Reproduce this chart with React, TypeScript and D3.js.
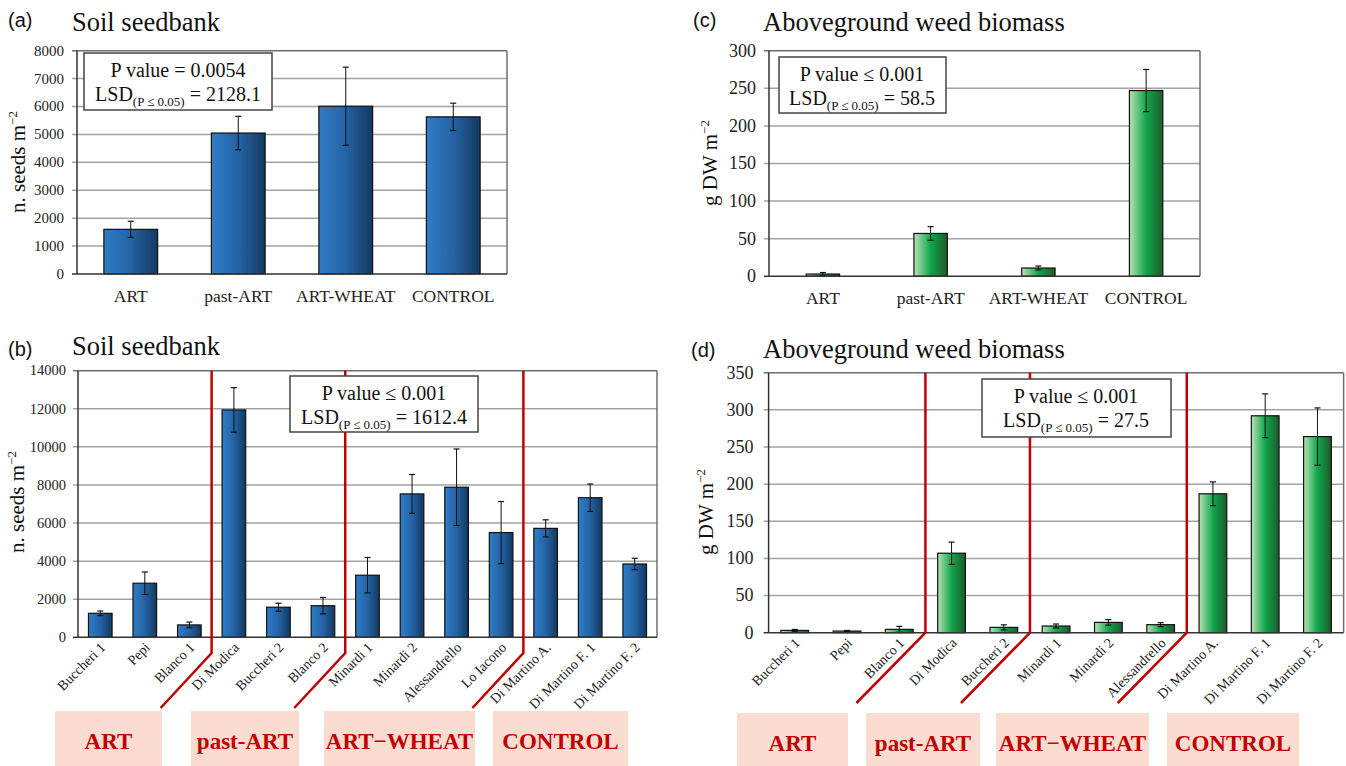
import * as d3 from 'd3'

// ---- data ----
const mainCats = ['ART', 'past-ART', 'ART-WHEAT', 'CONTROL']
const seedMain = [1600, 5050, 6010, 5630]
const seedMainErr = [290, 600, 1400, 490]
const bioMain = [3, 57, 11, 247]
const bioMainErr = [2, 9, 2.7, 28]

const seedFarms = ['Buccheri 1', 'Pepi', 'Blanco 1', 'Di Modica', 'Buccheri 2', 'Blanco 2', 'Minardi 1', 'Minardi 2', 'Alessandrello', 'Lo Iacono', 'Di Martino A.', 'Di Martino F. 1', 'Di Martino F. 2']
const seedFarmVals = [1260, 2840, 650, 11940, 1580, 1660, 3260, 7530, 7880, 5500, 5720, 7330, 3850]
const seedFarmErr = [120, 590, 150, 1170, 210, 430, 930, 1020, 2010, 1630, 450, 720, 300]
const seedGroupSizes = [3, 3, 4, 3]

const bioFarms = ['Buccheri 1', 'Pepi', 'Blanco 1', 'Di Modica', 'Buccheri 2', 'Minardi 1', 'Minardi 2', 'Alessandrello', 'Di Martino A.', 'Di Martino F. 1', 'Di Martino F. 2']
const bioFarmVals = [3.1, 2.2, 4.5, 107, 7.2, 9, 13.9, 10.8, 187, 292, 264]
const bioFarmErr = [1.3, 0.8, 4, 15, 3.4, 2.7, 3.8, 2.7, 16, 29.5, 38.6]
const bioGroupSizes = [3, 2, 3, 3]

const groupNames = ['ART', 'past-ART', 'ART\u2212WHEAT', 'CONTROL']

const serif = '"Liberation Serif", "Times New Roman", serif'
const sans = '"Liberation Sans", Arial, sans-serif'

function Panel(props: any) {
  const { cats, vals, errs, max, nTicks, x0, x1, yTop, yBot, barFrac, grad, rotate,
    tickSize, tickOff, catSize, groups, knee, dx, yEnd } = props
  const x = d3.scaleBand<string>().domain(cats).range([x0, x1]).padding(0)
  const y = d3.scaleLinear().domain([0, max]).range([yBot, yTop])
  const bw = x.bandwidth() * barFrac
  const ticks = y.ticks(nTicks)

  // red separators between groups
  const seps: number[] = []
  if (groups) {
    let acc = 0
    groups.slice(0, -1).forEach((g: number) => { acc += g; seps.push(x0 + acc * x.step()) })
  }

  return (
    <g>
      {ticks.map(t => (
        <g key={t}>
          {t > 0 && <line x1={x0 - 5} x2={x1} y1={y(t)} y2={y(t)} stroke={t === max ? '#6e6e6e' : '#a3a3a3'} strokeWidth={1.5} />}
          {t === 0 && <line x1={x0 - 5} x2={x0} y1={y(t)} y2={y(t)} stroke="#333" strokeWidth={1.5} />}
          <text x={x0 - tickOff} y={y(t) + tickSize * 0.33} textAnchor="end" fontFamily={serif} fontSize={tickSize} fill="#222">{t}</text>
        </g>
      ))}
      <line x1={x1} x2={x1} y1={yTop} y2={yBot} stroke="#6e6e6e" strokeWidth={1.5} />
      {cats.map((c: string, i: number) => {
        const cx = (x(c) as number) + x.bandwidth() / 2
        const v = vals[i]
        const e = errs[i]
        return (
          <g key={c}>
            <rect x={cx - bw / 2} y={y(v)} width={bw} height={yBot - y(v)} fill={`url(#${grad})`} stroke="#111" strokeWidth={1.2} />
            <line x1={cx} x2={cx} y1={y(v + e)} y2={y(Math.max(0, v - e))} stroke="#111" strokeWidth={1} />
            <line x1={cx - 3} x2={cx + 3} y1={y(v + e)} y2={y(v + e)} stroke="#111" strokeWidth={1.2} />
            <line x1={cx - 3} x2={cx + 3} y1={y(Math.max(0, v - e))} y2={y(Math.max(0, v - e))} stroke="#111" strokeWidth={1.2} />
            {rotate ? (
              <text transform={`translate(${cx + 6},${yBot + 11}) rotate(-45)`} textAnchor="end" fontFamily={serif} fontSize={catSize} fill="#222">{c}</text>
            ) : (
              <text x={cx} y={yBot + 28} textAnchor="middle" fontFamily={serif} fontSize={catSize} fill="#222">{c}</text>
            )}
          </g>
        )
      })}
      <line x1={x0} x2={x0} y1={yTop} y2={yBot} stroke="#333" strokeWidth={1.5} />
      <line x1={x0} x2={x1} y1={yBot} y2={yBot} stroke="#333" strokeWidth={1.5} />
      {seps.map(s => (
        <path key={s} d={`M${s},${yTop} L${s},${knee} L${s + dx},${yEnd}`} fill="none" stroke="#c00000" strokeWidth={2.5} />
      ))}
    </g>
  )
}

function StatBox({ x, y, w, h, line1, lsd, cx }: any) {
  return (
    <g>
      <rect x={x} y={y} width={w} height={h} fill="#fff" stroke="#444" strokeWidth={1.5} />
      <text x={cx} y={y + 24} textAnchor="middle" fontFamily={serif} fontSize={20} fill="#111">{line1}</text>
      <text x={cx} y={y + 48} textAnchor="middle" fontFamily={serif} fontSize={20} fill="#111">
        LSD<tspan fontSize={13} dy={5}>(P ≤ 0.05)</tspan><tspan dy={-5}> = {lsd}</tspan>
      </text>
    </g>
  )
}

function YLabel({ x, y, main }: any) {
  return (
    <text transform={`translate(${x},${y}) rotate(-90)`} textAnchor="middle" fontFamily={serif} fontSize={21} fill="#111">
      {main}<tspan fontSize={13} dy={-8}>−2</tspan>
    </text>
  )
}

function GroupBoxes({ boxes, top }: any) {
  return (
    <g>
      {boxes.map((b: number[], i: number) => (
        <g key={i}>
          <rect x={b[0]} y={top} width={b[1] - b[0]} height={60} fill="#fadcd0" />
          <text x={(b[0] + b[1]) / 2} y={top + 38} textAnchor="middle" fontFamily={serif} fontWeight="bold" fontSize={23} fill="#c00000">{groupNames[i]}</text>
        </g>
      ))}
    </g>
  )
}

export default function App() {
  return (
    <svg width={1346} height={766} style={{ position: 'absolute', left: 0, top: 0, background: '#fff' }}>
      <defs>
        <linearGradient id="blue" x1="0" x2="1" y1="0" y2="0">
          <stop offset="0" stopColor="#2f7dc8" />
          <stop offset="0.5" stopColor="#2463a5" />
          <stop offset="1" stopColor="#133960" />
        </linearGradient>
        <linearGradient id="green" x1="0" x2="1" y1="0" y2="0">
          <stop offset="0" stopColor="#b8e3b4" />
          <stop offset="0.5" stopColor="#10a64c" />
          <stop offset="1" stopColor="#1f5a2c" />
        </linearGradient>
      </defs>

      {/* (a) */}
      <text x={8} y={27} fontFamily={sans} fontSize={20} fill="#111">(a)</text>
      <text x={72} y={31} fontFamily={serif} fontSize={26.5} fill="#111">Soil seedbank</text>
      <Panel cats={mainCats} vals={seedMain} errs={seedMainErr} max={8000} nTicks={8}
        x0={77} x1={507} yTop={50.7} yBot={274} barFrac={0.5} grad="blue"
        tickSize={15} tickOff={13} catSize={17.5} />
      <YLabel x={25} y={162} main="n. seeds m" />
      <StatBox x={84} y={53} w={188} h={57} cx={178} line1="P value = 0.0054" lsd="2128.1" />

      {/* (c) */}
      <text x={693} y={27} fontFamily={sans} fontSize={20} fill="#111">(c)</text>
      <text x={763} y={31} fontFamily={serif} fontSize={26.5} fill="#111">Aboveground weed biomass</text>
      <Panel cats={mainCats} vals={bioMain} errs={bioMainErr} max={300} nTicks={6}
        x0={769} x1={1200} yTop={50.7} yBot={276.3} barFrac={0.31} grad="green"
        tickSize={18} tickOff={13} catSize={17.5} />
      <YLabel x={717} y={163} main="g DW m" />
      <StatBox x={779} y={57} w={167} h={56} cx={862} line1="P value ≤ 0.001" lsd="58.5" />

      {/* (b) */}
      <text x={8} y={356} fontFamily={sans} fontSize={20} fill="#111">(b)</text>
      <text x={72} y={355} fontFamily={serif} fontSize={26.5} fill="#111">Soil seedbank</text>
      <Panel cats={seedFarms} vals={seedFarmVals} errs={seedFarmErr} max={14000} nTicks={7}
        x0={78} x1={657} yTop={370.7} yBot={637.3} barFrac={0.53} grad="blue" rotate
        tickSize={14.5} tickOff={12} catSize={14} groups={seedGroupSizes} knee={653} dx={-51} yEnd={708} />
      <YLabel x={24} y={502} main="n. seeds m" />
      <StatBox x={290} y={376} w={188} h={56} cx={384} line1="P value ≤ 0.001" lsd="1612.4" />
      <GroupBoxes top={711} boxes={[[55, 162], [191, 299], [324, 475], [493, 628]]} />

      {/* (d) */}
      <text x={691} y={357} fontFamily={sans} fontSize={20} fill="#111">(d)</text>
      <text x={763} y={358} fontFamily={serif} fontSize={26.5} fill="#111">Aboveground weed biomass</text>
      <Panel cats={bioFarms} vals={bioFarmVals} errs={bioFarmErr} max={350} nTicks={7}
        x0={768.6} x1={1343.6} yTop={372.7} yBot={632.7} barFrac={0.53} grad="green" rotate
        tickSize={18} tickOff={15} catSize={14} groups={bioGroupSizes} knee={632.7} dx={-69} yEnd={703} />
      <YLabel x={713} y={512} main="g DW m" />
      <StatBox x={982} y={379} w={189} h={58} cx={1076} line1="P value ≤ 0.001" lsd="27.5" />
      <GroupBoxes top={713} boxes={[[737, 848], [866, 980], [996, 1149], [1167, 1299]]} />
    </svg>
  )
}
